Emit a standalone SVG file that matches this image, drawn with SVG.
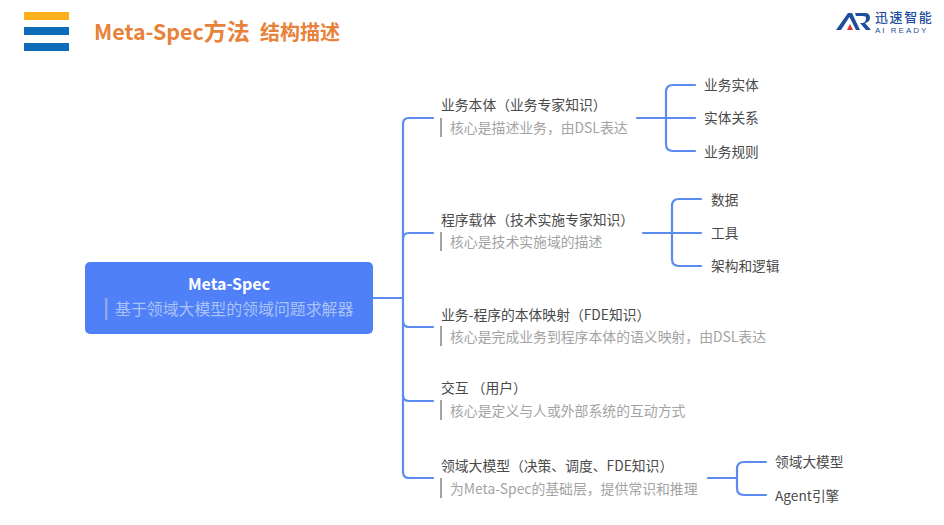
<svg xmlns="http://www.w3.org/2000/svg" width="944" height="525" viewBox="0 0 944 525">
<style>
text{font-family:"Noto Sans CJK SC","Noto Sans",sans-serif}
.t{font-size:13.8px;fill:#4a4a4a}
.s{font-size:13.85px;fill:#a3a3a3}
.l{font-size:13.7px;fill:#4a4a4a}
.b{fill:#a3a3a3}
.c{fill:none;stroke:#5b8af0;stroke-width:2.2;stroke-linecap:round}
</style>
<rect width="944" height="525" fill="#fff"/>
<g id="header">
<rect x="24" y="12" width="45" height="8" fill="#fdb01b"/>
<rect x="24" y="27" width="45" height="8" fill="#0f6cb8"/>
<rect x="24" y="43" width="45" height="8" fill="#0f6cb8"/>
<text x="94" y="40" font-weight="700" fill="#e8823a"><tspan font-size="21.400">Meta-Spec</tspan><tspan font-size="23">方法</tspan></text>
<text x="260" y="40" font-size="20" font-weight="700" fill="#e8823a">结构描述</text>
</g>
<g id="logo">
<path d="M836 30 L848 13 L852 13 L860 30 L856 30 L849.500 17 L841 30Z" fill="#1f4f9c"/>
<path d="M855 13 H865 Q870 13 870 18 Q870 22 865 23 L871 30 H866 L860 23 H863 Q866 22 866 18 Q866 16 863 16 H856Z" fill="#1f4f9c"/>
<path d="M847 30 L850 24 L853 30Z" fill="#d8352e"/>
<text x="875" y="22" font-size="13" font-weight="500" fill="#1f4f9c" letter-spacing="1.600">迅速智能</text>
<text x="875" y="33" font-size="8" fill="#1f4f9c" letter-spacing="2" style="font-family:'Liberation Sans',sans-serif">AI READY</text>
</g>
<g id="connectors">
<path class="c" d="M373 298H403"/>
<path class="c" d="M433 118H409Q403 118 403 124V472Q403 478 409 478H433"/>
<path class="c" d="M403 239Q403 233 409 233H433"/>
<path class="c" d="M403 321Q403 327 409 327H433"/>
<path class="c" d="M403 395Q403 401 409 401H433"/>
<path class="c" d="M637 118H695"/>
<path class="c" d="M695 85H673Q666 85 666 92V144Q666 151 673 151H695"/>
<path class="c" d="M643 233H701"/>
<path class="c" d="M701 199H679Q672 199 672 206V259Q672 266 679 266H701"/>
<path class="c" d="M708 478H737"/>
<path class="c" d="M766 462H744Q737 462 737 469V488Q737 495 744 495H766"/>
</g>
<g id="root">
<rect x="85" y="262" width="288" height="72" rx="5" fill="#4f80f7"/>
<text x="229" y="290" font-size="16" font-weight="700" fill="#fff" text-anchor="middle">Meta-Spec</text>
<rect x="105" y="298" width="2.500" height="22" fill="#8ea6e6"/>
<text x="115" y="315" font-size="15.900" fill="#a9c2f8">基于领域大模型的领域问题求解器</text>
</g>
<g id="n1">
<text class="t" x="441" y="110">业务本体（业务专家知识）</text>
<rect class="b" x="440" y="118" width="2" height="19"/>
<text class="s" x="450" y="133">核心是描述业务，由DSL表达</text>
</g>
<g id="n2">
<text class="t" x="441" y="225">程序载体（技术实施专家知识）</text>
<rect class="b" x="440" y="232" width="2" height="19"/>
<text class="s" x="450" y="247">核心是技术实施域的描述</text>
</g>
<g id="n3">
<text class="t" x="441" y="320">业务-程序的本体映射（FDE知识）</text>
<rect class="b" x="440" y="326" width="2" height="20"/>
<text class="s" x="450" y="342">核心是完成业务到程序本体的语义映射，由DSL表达</text>
</g>
<g id="n4">
<text class="t" x="441" y="393">交互 （用户）</text>
<rect class="b" x="440" y="400" width="2" height="20"/>
<text class="s" x="450" y="416">核心是定义与人或外部系统的互动方式</text>
</g>
<g id="n5">
<text class="t" x="441" y="471">领域大模型（决策、调度、FDE知识）</text>
<rect class="b" x="440" y="478" width="2" height="20"/>
<text class="s" x="450" y="494">为Meta-Spec的基础层，提供常识和推理</text>
</g>
<g id="n1a"><text class="l" x="704" y="90">业务实体</text></g>
<g id="n1b"><text class="l" x="704" y="123">实体关系</text></g>
<g id="n1c"><text class="l" x="704" y="157">业务规则</text></g>
<g id="n2a"><text class="l" x="711" y="205">数据</text></g>
<g id="n2b"><text class="l" x="711" y="238">工具</text></g>
<g id="n2c"><text class="l" x="711" y="271">架构和逻辑</text></g>
<g id="n5a"><text class="l" x="775" y="467">领域大模型</text></g>
<g id="n5b"><text class="l" x="775" y="501">Agent引擎</text></g>
</svg>
